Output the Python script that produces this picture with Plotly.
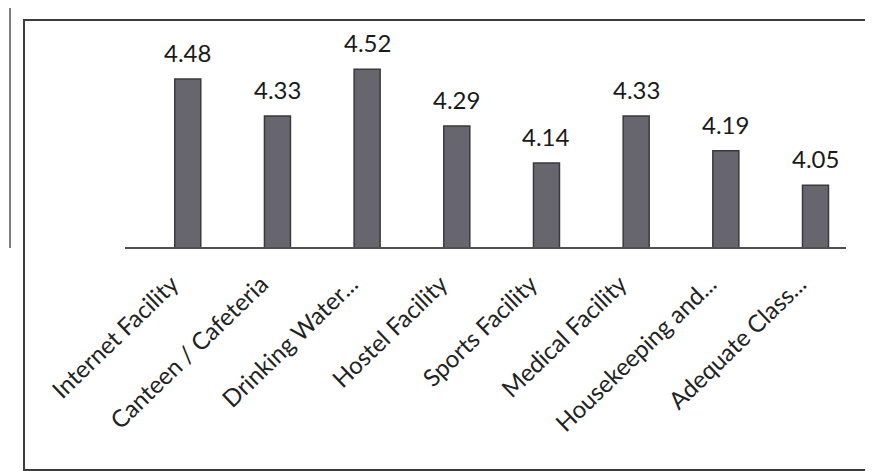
import plotly.graph_objects as go

categories = ["Internet Facility", "Canteen / Cafeteria", "Drinking Water...",
              "Hostel Facility", "Sports Facility", "Medical Facility",
              "Housekeeping and...", "Adequate Class..."]
values = [4.48, 4.33, 4.52, 4.29, 4.14, 4.33, 4.19, 4.05]
value_labels = ["4.48", "4.33", "4.52", "4.29", "4.14", "4.33", "4.19", "4.05"]

W, H = 873, 471
L, R, T, B = 117, 35, 15, 232

fig = go.Figure()
fig.add_trace(go.Bar(
    x=categories, y=values,
    marker=dict(color="#67656d", line=dict(color="#3a3a3e", width=1.5)),
    hoverinfo="skip",
))

for c, v, t in zip(categories, values, value_labels):
    fig.add_annotation(x=c, y=v, text=t, showarrow=False, yanchor="bottom",
                       yshift=10, font=dict(family="Lato", size=24, color="#1a1a1a"))

ph = H - T - B
pw = W - L - R
def px_x(p):
    return (p - L) / pw
def px_y(p):
    return (H - B - p) / ph

# outer frame of the chart area (scan border)
fig.add_shape(type="rect", xref="paper", yref="paper",
              x0=px_x(16), x1=px_x(880), y0=px_y(462), y1=px_y(12),
              line=dict(color="#3c3c3c", width=2), layer="below")
fig.add_shape(type="line", xref="paper", yref="paper",
              x0=px_x(2), x1=px_x(2), y0=px_y(240), y1=px_y(-5),
              line=dict(color="#555555", width=1.5), layer="below")

fig.update_layout(
    width=W, height=H,
    margin=dict(l=L, r=R, t=T, b=B, autoexpand=False),
    paper_bgcolor="white", plot_bgcolor="white",
    bargap=0.71,
    showlegend=False,
    font=dict(family="Lato", color="#222222"),
    xaxis=dict(showline=True, linecolor="#505050", linewidth=1.5,
               range=[-0.70, 7.34],
               tickangle=-44, tickfont=dict(family="Lato", size=24, color="#222222"),
               ticklabelshift=-16, ticklabelstandoff=12,
               ticks="", showgrid=False),
    yaxis=dict(range=[3.8, 3.8 + ph / 247.0], visible=False, showgrid=False),
)

fig.write_html("out.html")
